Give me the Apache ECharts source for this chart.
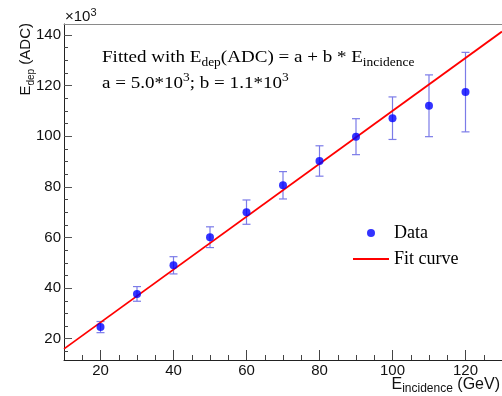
<!DOCTYPE html>
<html><head><meta charset="utf-8">
<script src="https://cdn.jsdelivr.net/npm/echarts@6/dist/echarts.min.js"></script>
<style>html,body{margin:0;padding:0;background:#fff}#c{width:502px;height:396px}</style>
</head><body><div id="c"></div>
<script>
// ---- data (values in units of 10^3 ADC) ----
const energies = [20, 30, 40, 50, 60, 70, 80, 90, 100, 110, 120];
const edep     = [24.6, 37.7, 49.0, 60.1, 70.0, 80.6, 90.2, 99.8, 107.1, 112.0, 117.4];
const edepErr  = [2.2, 2.9, 3.4, 4.1, 4.8, 5.4, 6.0, 7.1, 8.4, 12.2, 15.7];
const fitX = [10, 130];
const fitY = [16.0, 141.3];
const xMajorTicks = [20, 40, 60, 80, 100, 120];
const xMinorTicks = [15, 25, 30, 35, 45, 50, 55, 65, 70, 75, 85, 90, 95, 105, 110, 115, 125];
const yMajorTicks = [20, 40, 60, 80, 100, 120, 140];
const yMinorTicks = [15, 25, 30, 35, 45, 50, 55, 65, 70, 75, 85, 90, 95, 105, 110, 115, 125, 130, 135];
const xRange = [10, 130];
const yRange = [11.6, 144.3];

const chart = echarts.init(document.getElementById('c'), null, {renderer: 'canvas'});
const sans = 'Liberation Sans';
const serif = 'Liberation Serif';

const errData = energies.map((e, i) => [e, edep[i] - edepErr[i], edep[i] + edepErr[i]]);
const ptData = energies.map((e, i) => [e, edep[i]]);
const fitData = fitX.map((x, i) => [x, fitY[i]]);

const hiddenAxisBase = {axisLine: {show: false}, axisLabel: {show: false}, splitLine: {show: false}};

chart.setOption({
  animation: false,
  backgroundColor: '#fff',
  grid: {left: 64, top: 24, width: 438, height: 336, outerBoundsMode: 'none', containLabel: false},
  xAxis: [
    {type: 'value', min: xRange[0], max: xRange[1], position: 'bottom',
     axisLine: {show: true, lineStyle: {color: '#222', width: 1}},
     axisTick: {show: true, inside: true, length: 10, customValues: xMajorTicks, lineStyle: {color: '#444'}},
     axisLabel: {show: true, customValues: xMajorTicks, margin: 3, fontFamily: sans, fontSize: 15, color: '#111'},
     splitLine: {show: false}},
    Object.assign({type: 'value', min: xRange[0], max: xRange[1], position: 'bottom',
     axisTick: {show: true, inside: true, length: 5, customValues: xMinorTicks, lineStyle: {color: '#444'}}}, hiddenAxisBase),
    {type: 'value', min: xRange[0], max: xRange[1], position: 'top',
     axisLine: {show: true, lineStyle: {color: '#8a8a8a', width: 1}},
     axisTick: {show: false}, axisLabel: {show: false}, splitLine: {show: false}}
  ],
  yAxis: [
    {type: 'value', min: yRange[0], max: yRange[1], position: 'left',
     axisLine: {show: true, lineStyle: {color: '#222', width: 1}},
     axisTick: {show: true, inside: true, length: 8, customValues: yMajorTicks, lineStyle: {color: '#555'}},
     axisLabel: {show: true, customValues: yMajorTicks, margin: 3, fontFamily: sans, fontSize: 15, color: '#111'},
     splitLine: {show: false}},
    Object.assign({type: 'value', min: yRange[0], max: yRange[1], position: 'left',
     axisTick: {show: true, inside: true, length: 4, customValues: yMinorTicks, lineStyle: {color: '#444'}}}, hiddenAxisBase)
  ],
  legend: {
    data: [{name: 'Data', icon: 'circle'}, {name: 'Fit curve', itemStyle: {opacity: 0}}],
    orient: 'vertical', left: 352, top: 224, padding: 0, itemWidth: 36, itemHeight: 8, itemGap: 8,
    textStyle: {fontFamily: serif, fontSize: 18, color: '#000'}
  },
  series: [
    {type: 'custom', name: 'errors', xAxisIndex: 0, yAxisIndex: 0, silent: true, z: 2,
     data: errData, encode: {x: 0, y: [1, 2]},
     renderItem: function (params, api) {
       const x = api.value(0);
       const lo = api.coord([x, api.value(1)]);
       const hi = api.coord([x, api.value(2)]);
       const cap = 4;
       const st = {stroke: '#7b7be8', lineWidth: 1.2};
       return {type: 'group', children: [
         {type: 'line', shape: {x1: lo[0], y1: lo[1], x2: hi[0], y2: hi[1]}, style: st},
         {type: 'line', shape: {x1: lo[0] - cap, y1: lo[1], x2: lo[0] + cap, y2: lo[1]}, style: st},
         {type: 'line', shape: {x1: hi[0] - cap, y1: hi[1], x2: hi[0] + cap, y2: hi[1]}, style: st}
       ]};
     }},
    {type: 'line', name: 'Fit curve', data: fitData, showSymbol: false, symbol: 'none', z: 3,
     lineStyle: {color: '#ff0000', width: 1.8}, itemStyle: {color: '#ff0000'}},
    {type: 'scatter', name: 'Data', data: ptData, symbol: 'circle', symbolSize: 8, z: 4,
     itemStyle: {color: '#0000ff'}}
  ],
  graphic: [
    {type: 'text', x: 65, y: 7, style: {x: 0, y: 0, verticalAlign: 'top',
      text: '{n|×10}{sup|3}', rich: {n: {fontFamily: sans, fontSize: 15, lineHeight: 20, fill: '#111'}, sup: {fontFamily: sans, fontSize: 11, verticalAlign: 'top', fill: '#111'}}}},
    {type: 'text', x: 102, y: 46, scaleX: 1.12, style: {x: 0, y: 0, verticalAlign: 'top',
      text: '{n|Fitted with E}{sub|dep}{n|(ADC) = a + b * E}{sub|incidence}',
      rich: {n: {fontFamily: serif, fontSize: 17, lineHeight: 23, fill: '#000'}, sub: {fontFamily: serif, fontSize: 12, verticalAlign: 'bottom', fill: '#000'}}}},
    {type: 'text', x: 102, y: 72, scaleX: 1.12, style: {x: 0, y: 0, verticalAlign: 'top',
      text: '{n|a = 5.0*10}{sup|3}{n|; b = 1.1*10}{sup|3}',
      rich: {n: {fontFamily: serif, fontSize: 17, lineHeight: 23, fill: '#000'}, sup: {fontFamily: serif, fontSize: 12, verticalAlign: 'top', fill: '#000'}}}},
    {type: 'text', x: 26, y: 23, rotation: Math.PI / 2, style: {x: 0, y: 0, align: 'right', verticalAlign: 'middle',
      text: '{n|E}{sub|dep}{n| (ADC)}',
      rich: {n: {fontFamily: sans, fontSize: 15, lineHeight: 20, fill: '#111'}, sub: {fontFamily: sans, fontSize: 10, verticalAlign: 'bottom', fill: '#111'}}}},
    {type: 'text', x: 500, y: 375, style: {x: 0, y: 0, align: 'right', verticalAlign: 'top',
      text: '{n|E}{sub|incidence}{n| (GeV)}',
      rich: {n: {fontFamily: sans, fontSize: 16, lineHeight: 20, fill: '#111'}, sub: {fontFamily: sans, fontSize: 12, verticalAlign: 'bottom', fill: '#111'}}}}
  ]
});
</script>
</body></html>
